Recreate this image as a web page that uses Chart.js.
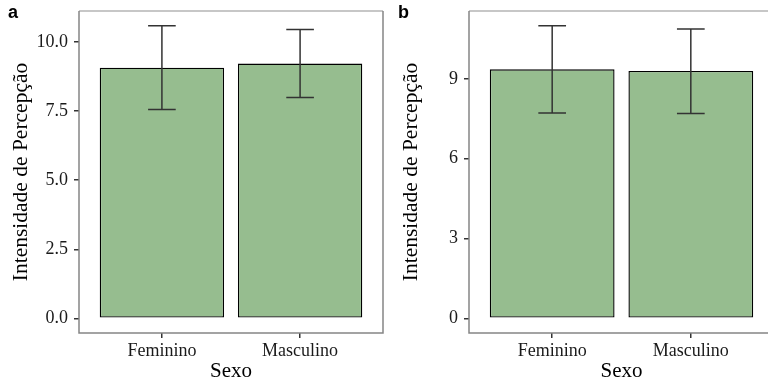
<!DOCTYPE html>
<html>
<head>
<meta charset="utf-8">
<script src="https://cdn.jsdelivr.net/npm/chart.js@4"></script>
<style>
    html, body { margin: 0; padding: 0; background: #fff; overflow: hidden; }
    .panel { position: absolute; top: 0; height: 381px; }
    .tag { position: absolute; top: 2px; font: bold 18px 'Liberation Sans', Arial, sans-serif; color: #000; }
</style>
</head>
<body>
<div class="panel" style="left:0;width:390px"><canvas id="chartA" width="390" height="381"></canvas></div>
<div class="panel" style="left:390px;width:384px"><canvas id="chartB" width="384" height="381"></canvas></div>
<div class="tag" style="left:8px">a</div>
<div class="tag" style="left:398px">b</div>

<script>
// Categories
const sexo = ['Feminino', 'Masculino'];

// Panel a
const meansA = [9.07, 9.22];
const lowerA = [7.56, 7.99];
const upperA = [10.59, 10.45];
const yTicksA = [0, 2.5, 5, 7.5, 10];

// Panel b
const meansB = [9.36, 9.30];
const lowerB = [7.72, 7.70];
const upperB = [11.00, 10.87];
const yTicksB = [0, 3, 6, 9];

const serif = "'Liberation Serif', 'Times New Roman', serif";

function makeChart(canvasId, means, lower, upper, yTicks, decimals, padRight) {
    // ggplot-style 5% expansion of the data range
    const top = Math.max(...upper);
    const yMin = -0.05 * top;
    const yMax = top * 1.05;

    // error bars + panel border
    const errorBars = {
        id: 'errorBars',
        afterDatasetsDraw(chart) {
            const ctx = chart.ctx;
            const xs = chart.scales.x;
            const ys = chart.scales.y;
            ctx.save();
            ctx.strokeStyle = '#333';
            ctx.lineWidth = 1.5;
            means.forEach((m, i) => {
                const cx = xs.getPixelForValue(i + 1);
                const half = (xs.getPixelForValue(i + 1.1) - xs.getPixelForValue(i + 0.9)) / 2;
                const yLo = ys.getPixelForValue(lower[i]);
                const yHi = ys.getPixelForValue(upper[i]);
                ctx.beginPath();
                ctx.moveTo(cx, yLo);
                ctx.lineTo(cx, yHi);
                ctx.moveTo(cx - half, yHi);
                ctx.lineTo(cx + half, yHi);
                ctx.moveTo(cx - half, yLo);
                ctx.lineTo(cx + half, yLo);
                ctx.stroke();
            });
            const a = chart.chartArea;
            ctx.lineWidth = 1.5;
            ctx.strokeStyle = '#b5b5b5';
            ctx.beginPath();
            ctx.moveTo(a.left, a.top);
            ctx.lineTo(a.right, a.top);
            ctx.stroke();
            ctx.strokeStyle = '#858585';
            ctx.beginPath();
            ctx.moveTo(a.left, a.top);
            ctx.lineTo(a.left, a.bottom);
            ctx.lineTo(a.right, a.bottom);
            ctx.lineTo(a.right, a.top);
            ctx.stroke();
            ctx.restore();
        }
    };

    return new Chart(document.getElementById(canvasId), {
        type: 'bar',
        data: {
            datasets: [{
                data: means.map((m, i) => ({ x: i + 1, y: m })),
                backgroundColor: '#96bd8f',
                borderColor: '#000',
                borderWidth: 1.4,
                borderSkipped: false,
                barPercentage: 0.9,
                categoryPercentage: 1.0
            }]
        },
        options: {
            responsive: false,
            animation: false,
            layout: { padding: { top: 11, right: padRight, left: 0, bottom: 0 } },
            plugins: { legend: { display: false }, tooltip: { enabled: false } },
            scales: {
                x: {
                    type: 'linear',
                    offset: false,
                    min: 0.4,
                    max: 2.6,
                    afterBuildTicks: scale => { scale.ticks = sexo.map((s, i) => ({ value: i + 1 })); },
                    afterFit: scale => { scale.height = 48; scale.paddingLeft = 0; scale.paddingRight = 0; },
                    grid: { drawOnChartArea: false, drawTicks: true, tickLength: 5, color: '#333', lineWidth: 1.5, offset: false },
                    border: { display: false },
                    ticks: {
                        padding: 2,
                        color: '#1a1a1a',
                        font: { family: serif, size: 18 },
                        callback: v => sexo[v - 1]
                    },
                    title: {
                        display: true,
                        text: 'Sexo',
                        color: '#000',
                        font: { family: serif, size: 21, lineHeight: 1 },
                        padding: { top: 0, bottom: -1 }
                    }
                },
                y: {
                    min: yMin,
                    max: yMax,
                    afterBuildTicks: scale => { scale.ticks = yTicks.map(v => ({ value: v })); },
                    afterFit: scale => { scale.width = 79; scale.paddingTop = 0; scale.paddingBottom = 0; },
                    grid: { drawOnChartArea: false, drawTicks: true, tickLength: 5, color: '#333', lineWidth: 1.5 },
                    border: { display: false },
                    ticks: {
                        padding: 6,
                        color: '#1a1a1a',
                        font: { family: serif, size: 18 },
                        callback: v => v.toFixed(decimals)
                    },
                    title: {
                        display: true,
                        text: 'Intensidade de Percepção',
                        color: '#000',
                        font: { family: serif, size: 21.5 },
                        padding: { top: 8, bottom: 0 }
                    }
                }
            }
        },
        plugins: [errorBars]
    });
}

makeChart('chartA', meansA, lowerA, upperA, yTicksA, 1, 7);
makeChart('chartB', meansB, lowerB, upperB, yTicksB, 0, 0);
</script>
</body>
</html>
